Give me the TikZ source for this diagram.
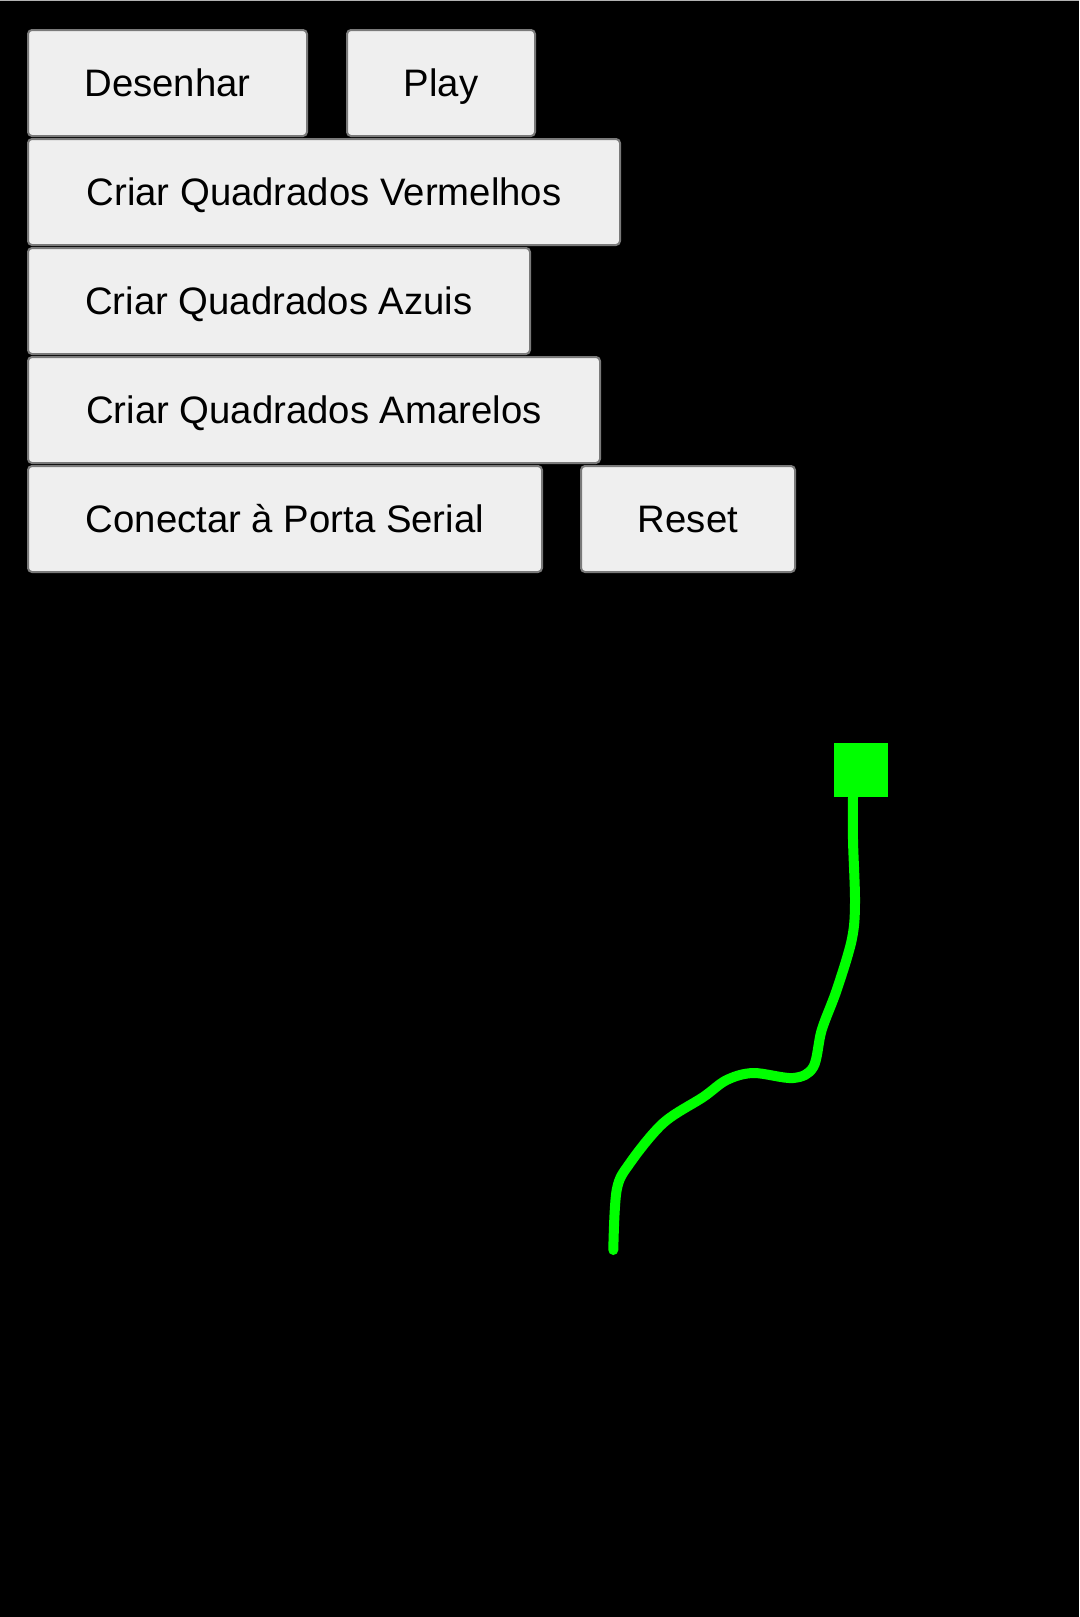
\documentclass[tikz,border=0pt]{standalone}
\usepackage{fontspec}
\setmainfont{Liberation Sans}
\usetikzlibrary{positioning}

\definecolor{btnfill}{HTML}{EFEFEF}
\definecolor{btnedge}{HTML}{7A7A7A}
\definecolor{trailgreen}{HTML}{00FF00}

\tikzset{
  button/.style={draw=btnedge, fill=btnfill, line width=2pt, rounded corners=4pt,
    minimum height=106pt, text height=27pt, text depth=0pt, inner sep=0pt, outer sep=0pt,
    font=\fontsize{38.3}{42}\selectfont},
  marker/.style={fill=trailgreen, minimum size=54pt, inner sep=0pt, outer sep=0pt},
  trail/.style={trailgreen, line width=10pt, line cap=round, line join=round},
}

\begin{document}
\begin{tikzpicture}[x=1pt, y=-1pt]

  % Background
  \fill[black] (0,0) rectangle (1079,1617);
  \useasboundingbox (0,0) rectangle (1079,1617);
  \draw[gray!60, line width=2pt] (0,0) -- (1079,0);

  % Define nodes
  \node[button, minimum width=279pt, anchor=north west] (desenhar) at (28,30) {Desenhar};
  \node[button, minimum width=188pt, right=40pt of desenhar] (play) {Play};
  \node[button, minimum width=592pt, below=3pt of desenhar.south west, anchor=north west] (vermelhos) {Criar Quadrados Vermelhos};
  \node[button, minimum width=502pt, below=3pt of vermelhos.south west, anchor=north west] (azuis) {Criar Quadrados Azuis};
  \node[button, minimum width=572pt, below=3pt of azuis.south west, anchor=north west] (amarelos) {Criar Quadrados Amarelos};
  \node[button, minimum width=514pt, below=3pt of amarelos.south west, anchor=north west] (conectar) {Conectar à Porta Serial};
  \node[button, minimum width=214pt, right=39pt of conectar] (reset) {Reset};

  % Drawing
  \node[marker] (quadrado) at (861,770) {};
  \draw[trail] plot[smooth, tension=0.55] coordinates {
    (853,797) (853,840) (855,903) (851.7,940) (836.7,990) (821.7,1030)
    (813.3,1067) (793.3,1078) (753.3,1073) (726.7,1080) (703.3,1097)
    (663.3,1123) (630,1163) (616.7,1190) (613.3,1250)};

\end{tikzpicture}
\end{document}
